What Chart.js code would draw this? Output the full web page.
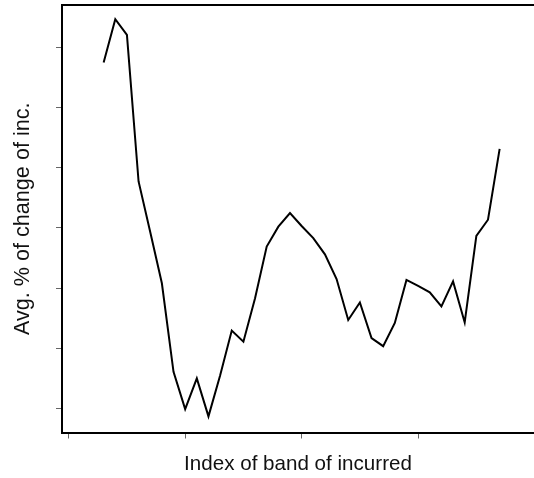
<!DOCTYPE html>
<html>
<head>
<meta charset="utf-8">
<script src="https://cdn.jsdelivr.net/npm/chart.js@4.4.1/dist/chart.umd.min.js"></script>
<style>
  html, body { margin: 0; padding: 0; background: #fff; }
  #wrap { width: 534px; height: 478px; position: relative; }
</style>
</head>
<body>
<div id="wrap"><canvas id="c" width="534" height="478"></canvas></div>
<script>
// Band index (x) and average % change of incurred (y)
const bandIndex = [3, 4, 5, 6, 7, 8, 9, 10, 11, 12, 13, 14, 15, 16, 17, 18, 19, 20,
  21, 22, 23, 24, 25, 26, 27, 28, 29, 30, 31, 32, 33, 34, 35, 36, 37];
const avgChange = [5.745, 6.465, 6.205, 3.77, 2.93, 2.08, 0.61, -0.01, 0.50, -0.13,
  0.55, 1.295, 1.11, 1.83, 2.69, 3.02, 3.245, 3.03, 2.83, 2.56,
  2.15, 1.47, 1.76, 1.17, 1.035, 1.42, 2.135, 2.035, 1.93, 1.695,
  2.11, 1.43, 2.865, 3.135, 4.31];
const xTickValues = [0, 10, 20, 30];
const yTickValues = [0, 1, 2, 3, 4, 5, 6];

const xTitle = 'Index of band of incurred';
const yTitle = 'Avg. % of change of inc.';

const points = bandIndex.map((x, i) => ({ x: x, y: avgChange[i] }));

const topBorder = {
  id: 'topBorder',
  afterDraw(chart) {
    const { ctx, chartArea } = chart;
    ctx.save();
    ctx.strokeStyle = '#000';
    ctx.lineWidth = 2;
    ctx.beginPath();
    ctx.moveTo(chartArea.left - 1, chartArea.top);
    ctx.lineTo(chartArea.right + 2, chartArea.top);
    ctx.stroke();
    ctx.restore();
  }
};

const fontFamily = '"Liberation Sans", Arial, sans-serif';

new Chart(document.getElementById('c'), {
  type: 'line',
  data: {
    datasets: [{
      data: points,
      borderColor: '#000',
      borderWidth: 2,
      pointRadius: 0,
      tension: 0,
      fill: false
    }]
  },
  options: {
    responsive: false,
    animation: false,
    layout: { padding: { top: 5, right: 0, left: 0, bottom: 0 } },
    plugins: { legend: { display: false }, tooltip: { enabled: false } },
    scales: {
      x: {
        type: 'linear',
        min: -0.575,
        max: 39.95,
        afterBuildTicks(scale) { scale.ticks = xTickValues.map(v => ({ value: v })); },
        afterFit(scale) { scale.height = 45.5; },
        ticks: { display: false },
        grid: { drawOnChartArea: false, drawTicks: true, tickLength: 6, color: '#666', lineWidth: 1 },
        border: { display: true, color: '#000', width: 2 },
        title: { display: true, text: xTitle, color: '#111', font: { family: fontFamily, size: 20.6 }, padding: { top: 0, bottom: 1.5 } }
      },
      y: {
        type: 'linear',
        min: -0.398,
        max: 6.70,
        afterBuildTicks(scale) { scale.ticks = yTickValues.map(v => ({ value: v })); },
        afterFit(scale) { scale.width = 62; },
        ticks: { display: false },
        grid: { drawOnChartArea: false, drawTicks: true, tickLength: 6, color: '#666', lineWidth: 1 },
        border: { display: true, color: '#000', width: 2 },
        title: { display: true, text: yTitle, color: '#111', font: { family: fontFamily, size: 21.6 }, padding: { top: 10, bottom: 0 } }
      }
    }
  },
  plugins: [topBorder]
});
</script>
</body>
</html>
